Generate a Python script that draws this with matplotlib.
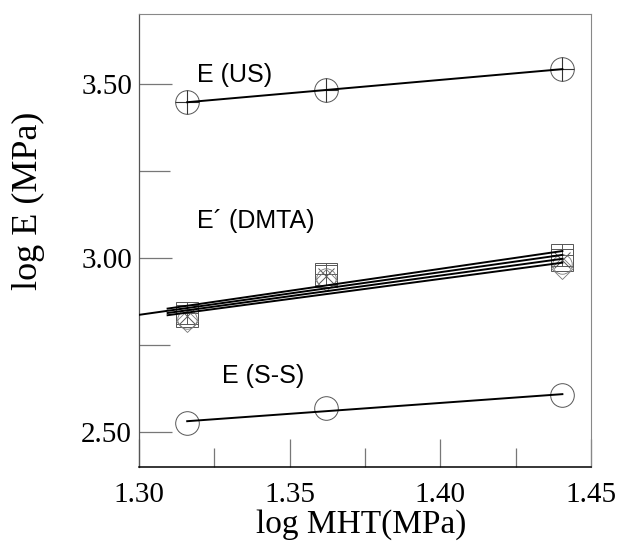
import numpy as np
import matplotlib
matplotlib.use("Agg")
import matplotlib.pyplot as plt

# log MHT of the three samples
mht = [1.316, 1.362, 1.4405]

# log E
e_us = [3.448, 3.483, 3.543]
e_ss = [2.526, 2.569, 2.606]
dmta_a = [2.842, 2.955, 3.008]   # square + plus
dmta_b = [2.834, 2.949, 2.996]   # square + cross
dmta_c = [2.826, 2.943, 2.984]   # circle
dmta_d = [2.818, 2.937, 2.972]   # diamond

serif = 'Liberation Serif'
sans = 'Liberation Sans'

fig = plt.figure(figsize=(6.21, 5.47), dpi=100)
ax = fig.add_axes([0.2238, 0.1463, 0.7279, 0.8272])

edge = '#555555'

def fitline(x, y, x0, x1):
    p = np.polyfit(x, y, 1)
    xs = np.array([x0, x1])
    ax.plot(xs, np.polyval(p, xs), color='black', lw=1.4, zorder=3)

# E (US): circle with a plus
ax.plot(mht, e_us, 'o', ms=17, mfc='none', mec=edge, mew=0.7)
ax.plot(mht, e_us, '+', ms=17, mec='#333333', mew=0.8)
fitline(mht, e_us, mht[0], mht[-1])

# E (S-S): open circles
ax.plot(mht, e_ss, 'o', ms=17, mfc='none', mec=edge, mew=0.7)
fitline(mht, e_ss, mht[0], mht[-1])

# E' (DMTA): four overlapping series
ax.plot(mht, dmta_a, 's', ms=16, mfc='none', mec=edge, mew=0.7)
ax.plot(mht, dmta_a, '+', ms=16, mec=edge, mew=0.7)
ax.plot(mht, dmta_b, 's', ms=16, mfc='none', mec=edge, mew=0.7)
ax.plot(mht, dmta_b, 'x', ms=11, mec=edge, mew=0.7)
ax.plot(mht, dmta_c, 'o', ms=14, mfc='none', mec='#777777', mew=0.6)
ax.plot(mht, dmta_d, 'D', ms=11, mfc='none', mec='#777777', mew=0.6)
fitline(mht, dmta_a, 1.3095, 1.4405)
fitline(mht, dmta_b, 1.300, 1.4405)
fitline(mht, dmta_c, 1.3095, 1.4405)
fitline(mht, dmta_d, 1.3095, 1.4405)

ax.text(1.3192, 3.506, 'E (US)', fontsize=18, family=sans)
ax.text(1.3192, 3.086, 'E\u00b4 (DMTA)', fontsize=18, family=sans)
ax.text(1.3275, 2.641, 'E (S-S)', fontsize=18, family=sans)

ax.set_xlim(1.30, 1.45)
ax.set_ylim(2.40, 3.70)
ax.set_xticks([1.30, 1.35, 1.40, 1.45])
ax.set_xticklabels(['1.30', '1.35', '1.40', '1.45'])
ax.set_xticks([1.325, 1.375, 1.425], minor=True)
ax.set_yticks([2.50, 3.00, 3.50])
ax.set_yticklabels(['2.50', '3.00', '3.50'])
ax.set_yticks([2.75, 3.25], minor=True)

ax.tick_params(which='both', direction='in', width=0.9, color='#777777')
ax.tick_params(axis='y', which='major', length=24, labelsize=21, pad=5)
ax.tick_params(axis='y', which='minor', length=22)
ax.tick_params(axis='x', which='major', length=20, labelsize=21, pad=11)
ax.tick_params(axis='x', which='minor', length=14)
for lab in ax.get_xticklabels() + ax.get_yticklabels():
    lab.set_family(serif)

ax.spines['bottom'].set_color('black')
ax.spines['bottom'].set_linewidth(1.1)
ax.spines['left'].set_color('#555555')
ax.spines['left'].set_linewidth(0.9)
for s in ['top', 'right']:
    ax.spines[s].set_color('#888888')
    ax.spines[s].set_linewidth(0.8)

ax.set_xlabel('log MHT(MPa)', family=serif, fontsize=24)
ax.xaxis.set_label_coords(0.491, -0.094)
ax.set_ylabel('log E (MPa)', family=serif, fontsize=26)
ax.yaxis.set_label_coords(-0.208, 0.588)

fig.savefig('out.png', dpi=100)
